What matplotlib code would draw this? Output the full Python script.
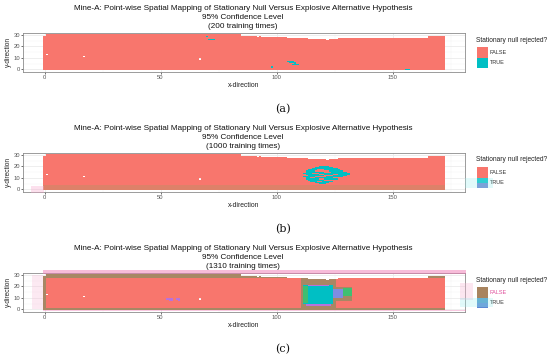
import numpy as np
import matplotlib
matplotlib.use("Agg")
import matplotlib.pyplot as plt
from matplotlib.colors import ListedColormap
from matplotlib.patches import Rectangle

# ---------------- data ----------------
n_x = 173                      # x-direction columns 0..172
n_y = 31                       # y-direction rows 0..30
x_ticks = [0, 50, 100, 150]
y_ticks = [0, 10, 20, 30]
panel_subtitles = ["(200 training times)", "(1000 training times)", "(1310 training times)"]
panel_captions = ["(a)", "(b)", "(c)"]
legend_labels = ["FALSE", "TRUE"]

# upper boundary of the mine grid (highest y row present) by x segment start
top_seg_x = [0, 1, 86, 94, 105, 114, 127, 166]
top_seg_y = [29, 30, 29, 28, 27, 26, 27, 29]
# missing cells (x, y)
hole_x = [1, 17, 67, 85, 92, 122]
hole_y = [13, 11, 9, 30, 29, 26]

# panel (a): rejected cells (x, y)
true_a_x = [70, 71, 72, 73, 98, 105, 106, 107, 106, 107, 108, 107, 108, 109, 108, 156, 157]
true_a_y = [29, 26, 26, 26, 2, 7, 7, 7, 6, 6, 6, 4, 4, 4, 5, 0, 0]

# panel (b): rejected cluster as row segments (y, x_start, x_end)
true_b_y = [20, 19, 18, 17, 17, 16, 16, 15, 15, 14, 14, 13, 13, 13, 12, 12, 11, 11, 10, 10, 9, 9, 8, 7, 7, 6, 5]
true_b_x0 = [119, 117, 116, 114, 121, 113, 123, 113, 124, 112, 119, 113, 121, 127, 114, 125, 112, 122, 113, 117, 113, 121, 114, 115, 120, 117, 119]
true_b_x1 = [122, 124, 126, 117, 127, 116, 128, 120, 130, 115, 131, 118, 124, 131, 120, 130, 116, 128, 114, 124, 118, 126, 120, 117, 124, 122, 121]
tint_b_rows = [0, 1, 2, 3]

# panel (c): blocks (x0, x1, y0, y1, category)
c_x0 = [111, 125, 112, 112, 113, 114, 125, 129, 53, 54, 57, 58]
c_x1 = [125, 132, 124, 113, 123, 122, 128, 132, 53, 55, 57, 58]
c_y0 = [0, 8, 5, 6, 3, 21, 10, 12, 9, 8, 9, 8]
c_y1 = [27, 19, 21, 20, 4, 21, 17, 18, 9, 9, 9, 9]
c_cat = [2, 2, 1, 4, 3, 3, 5, 4, 3, 3, 3, 3]
tint_c_rows = [0, 1, 28, 29, 30]

# colours per category: 0 FALSE, 1 TRUE, 2 brown overlay, 3 purple, 4 green, 5 blue, 6 bottom tint
cat_colors = ["#F8766D", "#00BFC4", "#A88764", "#B872DC", "#3FBF72", "#7F8CE2", "#DD8169"]
legend_false_col = ["#F8766D", "#F8766D", "#A8845F"]
legend_true_top = ["#00BFC4", "#00BFC4", "#4F9AC8"]
legend_true_bot = ["#00BFC4", "#6C82D0", "#5B88D4"]
legend_false_txt = ["#333333", "#333333", "#E0509C"]


def base_grid():
    g = np.full((n_y, n_x), -1, dtype=float)
    bounds = list(top_seg_x) + [n_x]
    for i, top in enumerate(top_seg_y):
        g[: top + 1, bounds[i]:bounds[i + 1]] = 0
    for hx, hy in zip(hole_x, hole_y):
        g[hy, hx] = -1
    return g


def grid_a():
    g = base_grid()
    for x, y in zip(true_a_x, true_a_y):
        g[y, x] = 1
    return g


def grid_b():
    g = base_grid()
    for r in tint_b_rows:
        g[r][g[r] == 0] = 6
    for y, a, b in zip(true_b_y, true_b_x0, true_b_x1):
        seg = g[y, a:b + 1]
        seg[seg >= 0] = 1
    return g


def grid_c():
    g = base_grid()
    for r in tint_c_rows:
        g[r][g[r] == 0] = 2
    col0 = g[:, 0]
    col0[col0 >= 0] = 2
    for a, b, y0, y1, c in zip(c_x0, c_x1, c_y0, c_y1, c_cat):
        sub = g[y0:y1 + 1, a:b + 1]
        sub[sub >= 0] = c
    return g


grids = [grid_a(), grid_b(), grid_c()]

# ---------------- layout ----------------
W, H = 550, 359
fig = plt.figure(figsize=(W / 100, H / 100), dpi=100)
FONT = "Liberation Sans"

def fx(px):
    return px / W

def fy(py):
    return 1 - py / H

cmap = ListedColormap(cat_colors)
cmap.set_bad((1, 1, 1, 0))
x_edges = np.arange(n_x + 1) - 0.5
y_edges = np.arange(n_y + 1) - 0.5

for k in range(3):
    off = 120 * k
    left, right, top, bot = 23.3, 464.8, 32.7 + off, 71.6 + off
    ax = fig.add_axes([fx(left), fy(bot), fx(right - left), (bot - top) / H])
    ax.set_xlim(-9.15, 181.15)
    ax.set_ylim(-2.05, 32.05)
    ax.set_xticks(x_ticks)
    ax.set_yticks(y_ticks)
    ax.set_xticks([25, 75, 125, 175], minor=True)
    ax.set_yticks([5, 15, 25], minor=True)
    ax.grid(which="major", color="#EBEBEB", linewidth=0.6)
    ax.grid(which="minor", color="#F3F3F3", linewidth=0.35)
    ax.set_axisbelow(True)
    ax.tick_params(which="minor", length=0)
    ax.tick_params(which="major", length=1.7, width=0.5, color="#333333", pad=0.7,
                   labelsize=4.2, labelcolor="#555555")
    for lab in ax.get_xticklabels() + ax.get_yticklabels():
        lab.set_fontfamily(FONT)
    for s in ax.spines.values():
        s.set_color("#8C8C8C")
        s.set_linewidth(0.6)
    data = np.ma.masked_less(grids[k], 0)
    ax.pcolormesh(x_edges, y_edges, data, cmap=cmap, vmin=-0.5, vmax=len(cat_colors) - 0.5,
                  shading="flat", zorder=2)
    ax.set_xlabel("x-direction", fontsize=4.9, family=FONT, color="#222222")
    ax.set_ylabel("y-direction", fontsize=4.7, family=FONT, color="#222222")
    h_ax = bot - top
    w_ax = right - left
    ax.xaxis.set_label_coords((244 - left) / w_ax, -(85.2 + off - bot) / h_ax)
    ax.yaxis.set_label_coords(-(left - 8.3) / w_ax, 0.5)
    ax.xaxis.label.set_va("center")
    ax.yaxis.label.set_va("center")

    # title
    fig.text(fx(243), fy(8.7 + off),
             "Mine-A: Point-wise Spatial Mapping of Stationary Null Versus Explosive Alternative Hypothesis",
             ha="center", va="center", fontsize=5.9, family=FONT, color="#111111")
    fig.text(fx(243), fy(17.4 + off), "95% Confidence Level",
             ha="center", va="center", fontsize=5.9, family=FONT, color="#111111")
    fig.text(fx(243), fy(26 + off), panel_subtitles[k],
             ha="center", va="center", fontsize=5.9, family=FONT, color="#111111")

    # legend
    fig.text(fx(476.5), fy(40 + off), "Stationary null rejected?", ha="left", va="center",
             fontsize=4.8, family=FONT, color="#222222")
    fig.add_artist(Rectangle((fx(476.7), fy(57.7 + off)), 11 / W, 11 / H,
                             transform=fig.transFigure, facecolor=legend_false_col[k], edgecolor="none"))
    fig.add_artist(Rectangle((fx(476.7), fy(62.5 + off)), 11 / W, 4.8 / H,
                             transform=fig.transFigure, facecolor=legend_true_top[k], edgecolor="none"))
    fig.add_artist(Rectangle((fx(476.7), fy(67.6 + off)), 11 / W, 5.1 / H,
                             transform=fig.transFigure, facecolor=legend_true_bot[k], edgecolor="none"))
    fig.text(fx(490), fy(52.5 + off), legend_labels[0], ha="left", va="center",
             fontsize=4.0, family=FONT, color=legend_false_txt[k])
    fig.text(fx(490), fy(63 + off), legend_labels[1], ha="left", va="center",
             fontsize=4.0, family=FONT, color="#333333")

    # caption
    fig.text(fx(283), fy(109.5 + off), panel_captions[k], ha="center", va="center",
             fontsize=8, family="DejaVu Serif", color="#111111")

# faint overlay artefacts of the source figure
def band(x0, y0, x1, y1, color, alpha):
    fig.add_artist(Rectangle((fx(x0), fy(y1)), (x1 - x0) / W, (y1 - y0) / H,
                             transform=fig.transFigure, facecolor=color, edgecolor="none",
                             alpha=alpha, zorder=5))

band(31, 186, 44, 193, "#F7A8CC", 0.35)
band(465, 178, 493, 188, "#9CEFF0", 0.3)
band(32, 275, 43, 309, "#F7B8D6", 0.3)
band(43, 270, 466, 273.5, "#F07AB5", 0.5)
band(43, 309.5, 466, 311, "#F07AB5", 0.4)
band(460, 283, 473, 300, "#F7B8D6", 0.35)
band(460, 298, 493, 307, "#9CEFF0", 0.3)

fig.savefig("out.png", dpi=100)
